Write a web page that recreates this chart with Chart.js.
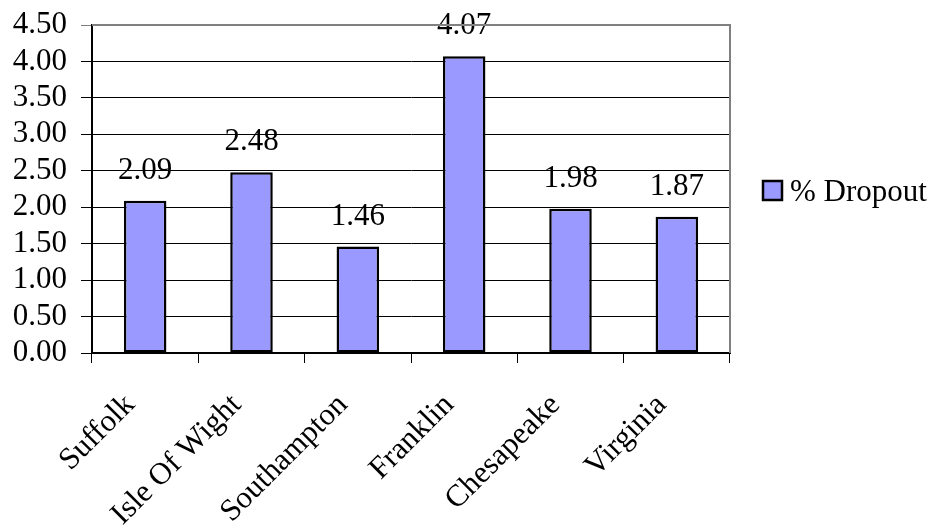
<!DOCTYPE html>
<html>
<head>
<meta charset="utf-8">
<script src="https://cdn.jsdelivr.net/npm/chart.js@4/dist/chart.umd.min.js"></script>
<style>
  html, body { margin: 0; padding: 0; background: #ffffff; }
  #wrap { width: 935px; height: 527px; }
</style>
</head>
<body>
<div id="wrap"><canvas id="c" width="935" height="527"></canvas></div>
<script>
// Dropout rates by locality
const categories = ['Suffolk', 'Isle Of Wight', 'Southampton', 'Franklin', 'Chesapeake', 'Virginia'];
const dropout = [2.09, 2.48, 1.46, 4.07, 1.98, 1.87];
const seriesName = '% Dropout';
const yTicks = [0, 0.5, 1, 1.5, 2, 2.5, 3, 3.5, 4, 4.5];

const FONT = "'Liberation Serif', 'Times New Roman', serif";
const FONT_SIZE = 31;
const BAR_FILL = '#9999FF';

// Value labels above each bar, painted underneath the grid lines
const valueLabels = {
  id: 'valueLabels',
  beforeDraw(chart) {
    const ctx = chart.ctx;
    const meta = chart.getDatasetMeta(0);
    ctx.save();
    ctx.font = FONT_SIZE + 'px ' + FONT;
    ctx.fillStyle = '#000';
    ctx.textAlign = 'center';
    ctx.textBaseline = 'alphabetic';
    meta.data.forEach((bar, i) => {
      ctx.fillText(dropout[i].toFixed(2), bar.x, bar.y - 22);
    });
    ctx.restore();
  }
};

// Grey frame on the top and right of the plot area
const plotFrame = {
  id: 'plotFrame',
  beforeDatasetsDraw(chart) {
    const { ctx, chartArea: a } = chart;
    ctx.save();
    ctx.strokeStyle = '#808080';
    ctx.lineWidth = 2;
    ctx.beginPath();
    ctx.moveTo(a.left, a.top);
    ctx.lineTo(a.right, a.top);
    ctx.lineTo(a.right, a.bottom);
    ctx.stroke();
    ctx.restore();
  }
};

// Legend box to the right of the plot
const sideLegend = {
  id: 'sideLegend',
  afterDraw(chart) {
    const ctx = chart.ctx;
    const ds = chart.data.datasets[0];
    const x = 763, y = 181, s = 19;
    ctx.save();
    ctx.fillStyle = ds.backgroundColor;
    ctx.fillRect(x, y, s, s);
    ctx.strokeStyle = '#000';
    ctx.lineWidth = 2.5;
    ctx.strokeRect(x, y, s, s);
    ctx.font = FONT_SIZE + 'px ' + FONT;
    ctx.fillStyle = '#000';
    ctx.textAlign = 'left';
    ctx.textBaseline = 'alphabetic';
    ctx.fillText(ds.label, 790, 201);
    ctx.restore();
  }
};

new Chart(document.getElementById('c'), {
  type: 'bar',
  data: {
    labels: categories,
    datasets: [{
      label: seriesName,
      data: dropout,
      backgroundColor: BAR_FILL,
      borderColor: '#000',
      borderWidth: 2.5,
      borderSkipped: false,
      categoryPercentage: 1,
      barPercentage: 0.4
    }]
  },
  options: {
    responsive: false,
    animation: false,
    devicePixelRatio: 1,
    layout: { padding: { left: 0, top: 25, right: 205, bottom: 0 } },
    plugins: {
      legend: { display: false },
      tooltip: { enabled: false }
    },
    scales: {
      x: {
        offset: true,
        afterFit(scale) {
          scale.height = 174;
          scale.paddingLeft = 0;
          scale.paddingRight = 0;
        },
        grid: {
          offset: true,
          drawOnChartArea: false,
          drawTicks: true,
          tickLength: 10,
          color: '#000',
          lineWidth: 1
        },
        border: { color: '#000', width: 2 },
        ticks: {
          minRotation: 45,
          maxRotation: 45,
          autoSkip: false,
          padding: 24,
          labelOffset: -15,
          color: '#000',
          font: { family: FONT, size: FONT_SIZE }
        }
      },
      y: {
        min: 0,
        max: 4.5,
        afterFit(scale) {
          scale.width = 92;
          scale.paddingTop = 0;
          scale.paddingBottom = 0;
        },
        afterBuildTicks(scale) { scale.ticks = yTicks.map(v => ({ value: v })); },
        grid: {
          color: (c) => (c.tick && c.tick.value === 4.5) ? '#808080' : '#000',
          lineWidth: 1,
          drawTicks: true,
          tickLength: 11
        },
        border: { color: '#000', width: 2 },
        ticks: {
          autoSkip: false,
          padding: 14,
          color: '#000',
          font: { family: FONT, size: FONT_SIZE },
          callback: (v) => Number(v).toFixed(2)
        }
      }
    }
  },
  plugins: [plotFrame, valueLabels, sideLegend]
});
</script>
</body>
</html>
